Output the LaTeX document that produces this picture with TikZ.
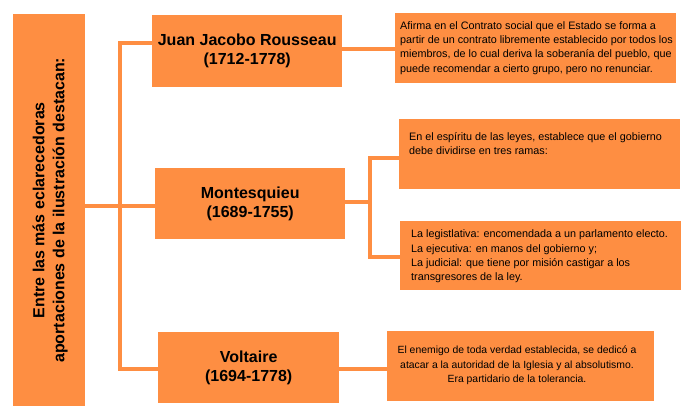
\documentclass[tikz,border=0pt]{standalone}
\usepackage{fontspec}
\setmainfont{Liberation Sans}
\definecolor{orng}{RGB}{254,142,66}
\begin{document}
\begin{tikzpicture}[x=1pt,y=-1pt,
  box/.style={fill=orng,draw=none,inner sep=0pt,anchor=north west},
  title/.style={box,font=\fontsize{16}{19}\selectfont\bfseries,align=center},
  small/.style={font=\fontsize{10.8}{14.3}\selectfont,inner sep=0pt},
  conn/.style={draw=orng,line width=3.5pt}]
\useasboundingbox (0,0) rectangle (690,417);
% boxes
\node[box,minimum width=72,minimum height=392] (lb) at (13,14) {};
\node[font=\fontsize{16}{20}\selectfont\bfseries,align=center,rotate=90] (lt) at ([xshift=1]lb.center) {Entre las más eclarecedoras\\aportaciones de la ilustración destacan:};
\node[title,minimum width=190,minimum height=72] (rb) at (152,15) {Juan Jacobo Rousseau\\(1712-1778)};
\node[title,minimum width=190,minimum height=71] (mb) at (155,168) {Montesquieu\\(1689-1755)};
\node[title,minimum width=181,minimum height=71] (vb) at (158,332) {Voltaire\\(1694-1778)};
\node[box,minimum width=281,minimum height=70] (rt) at (395,13) {};
\node[small,anchor=west,align=left] (rtx) at (400,48) {Afirma en el Contrato social que el Estado se forma a\\partir de un contrato libremente establecido por todos los\\miembros, de lo cual deriva la soberanía del pueblo, que\\puede recomendar a cierto grupo, pero no renunciar.};
\node[box,minimum width=281,minimum height=70] (mt1) at (399,119) {};
\node[small,anchor=north west,align=left] (m1x) at (409,132) {En el espíritu de las leyes, establece que el gobierno\\debe dividirse en tres ramas:};
\node[box,minimum width=281,minimum height=69] (mt2) at (400,221) {};
\node[small,anchor=west,align=left] (m2x) at (411,256.5) {La legistlativa: encomendada a un parlamento electo.\\La ejecutiva: en manos del gobierno y;\\La judicial: que tiene por misión castigar a los\\transgresores de la ley.};
\node[box,minimum width=267,minimum height=70] (vt) at (387,331) {};
\node[small,font=\fontsize{10.4}{14.3}\selectfont,align=center] (vtx) at (517,365.5) {El enemigo de toda verdad establecida, se dedicó a\\atacar a la autoridad de la Iglesia y al absolutismo.\\Era partidario de la tolerancia.};
% connectors
\coordinate (ja) at (120,43);
\coordinate (jb) at (120,369);
\coordinate (jm) at (120,206);
\draw[conn] (ja -| rb.west) -- (ja) -- (jb) -- (jb -| vb.west);
\draw[conn] (lb.east |- jm) -- (jm -| mb.west);
\coordinate (jr) at (370,49);
\draw[conn] (rb.east |- jr) -- (rt.west |- jr);
\coordinate (jc) at (370,158);
\coordinate (jd) at (370,257);
\coordinate (je) at (370,202);
\draw[conn] (mb.east |- je) -- (je);
\draw[conn] (jc -| mt1.west) -- (jc) -- (jd) -- (jd -| mt2.west);
\coordinate (jv) at (370,369);
\draw[conn] (vb.east |- jv) -- (vt.west |- jv);
\end{tikzpicture}
\end{document}
